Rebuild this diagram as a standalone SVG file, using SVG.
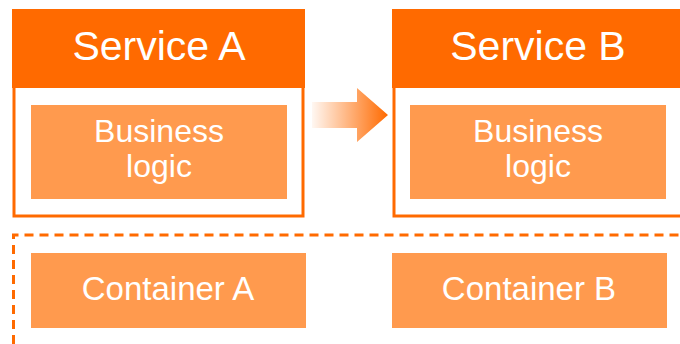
<svg xmlns="http://www.w3.org/2000/svg" width="680" height="344" viewBox="0 0 680 344">
  <defs>
    <linearGradient id="arrowGrad" x1="308" y1="0" x2="388" y2="0" gradientUnits="userSpaceOnUse">
      <stop offset="0" stop-color="#FF6A00" stop-opacity="0"/>
      <stop offset="1" stop-color="#FF6A00" stop-opacity="1"/>
    </linearGradient>
  </defs>
  <style>
    .hdr { fill: #FF6A00; }
    .frame { fill: #FFFFFF; stroke: #FF6A00; stroke-width: 3; }
    .inner { fill: #FF9A4E; }
    .t { font-family: "Liberation Sans", Arial, sans-serif; fill: #FFFFFF; text-anchor: middle; }
    .big { font-size: 41px; }
    .mid { font-size: 33px; }
    .bl { font-size: 32px; }
    .dash { fill: none; stroke: #FF6A00; stroke-width: 3; stroke-dasharray: 9 6; }
  </style>
  <rect width="680" height="344" fill="#FFFFFF"/>

  <g id="serviceA">
    <rect class="frame" x="14" y="86" width="289" height="130"/>
    <rect class="hdr" x="12" y="9" width="293" height="79"/>
    <text class="t big" x="159" y="60">Service A</text>
  </g>
  <g id="logicA">
    <rect class="inner" x="31" y="105" width="256" height="94"/>
    <text class="t bl" x="159" y="142">Business</text>
    <text class="t bl" x="159" y="177">logic</text>
  </g>

  <g id="serviceB">
    <rect class="frame" x="394" y="86" width="300" height="130"/>
    <rect class="hdr" x="392" y="9" width="293" height="79"/>
    <text class="t big" x="538" y="60">Service B</text>
  </g>
  <g id="logicB">
    <rect class="inner" x="410" y="105" width="256" height="94"/>
    <text class="t bl" x="538" y="142">Business</text>
    <text class="t bl" x="538" y="177">logic</text>
  </g>

  <g id="runtime">
    <path class="dash" d="M13.5 344 V235 H680"/>
  </g>

  <g id="containerA">
    <rect class="inner" x="31" y="253" width="275" height="75"/>
    <text class="t mid" x="168" y="300">Container A</text>
  </g>
  <g id="containerB">
    <rect class="inner" x="392" y="253" width="275" height="75"/>
    <text class="t mid" x="529" y="300">Container B</text>
  </g>

  <g id="connectors">
    <path d="M312 102 H357 V88 L388 115 L357 142 V128 H312 Z" fill="url(#arrowGrad)"/>
  </g>
</svg>
